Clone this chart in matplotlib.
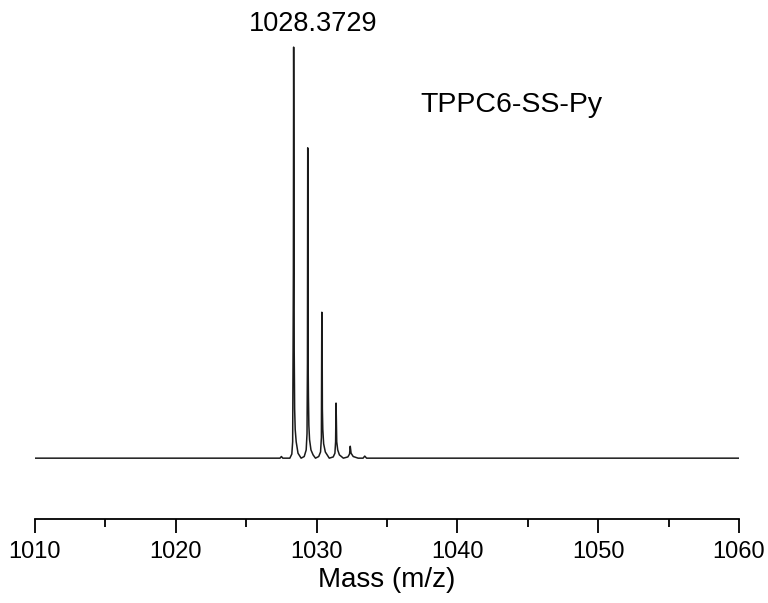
import matplotlib
matplotlib.use("Agg")
import matplotlib.pyplot as plt
from matplotlib.ticker import MultipleLocator

plt.rcParams['font.family'] = ['Liberation Sans', 'DejaVu Sans']

# Profile spectrum (m/z, relative intensity)
mz = [1010.0, 1027.40, 1027.50, 1027.60, 1028.10, 1028.24, 1028.30, 1028.33, 1028.35, 1028.37,
      1028.39, 1028.41, 1028.44, 1028.48, 1028.55, 1028.68, 1028.90,
      1029.12, 1029.26, 1029.32, 1029.35, 1029.37, 1029.38, 1029.40, 1029.42, 1029.45,
      1029.50, 1029.60, 1029.75, 1029.92,
      1030.15, 1030.28, 1030.34, 1030.37, 1030.39, 1030.41, 1030.44, 1030.50,
      1030.62, 1030.90,
      1031.18, 1031.30, 1031.35, 1031.38, 1031.40, 1031.43, 1031.50, 1031.62, 1031.90,
      1032.22, 1032.34, 1032.39, 1032.45, 1032.60, 1032.95,
      1033.30, 1033.42, 1033.55, 1033.80, 1060.0]
intensity = [0.0, 0.0, 0.004, 0.0, 0.0, 0.01, 0.04, 0.26, 0.45, 1.0,
             0.70, 0.26, 0.12, 0.07, 0.04, 0.012, 0.0,
             0.004, 0.02, 0.06, 0.23, 0.755, 0.72, 0.23, 0.15, 0.08,
             0.045, 0.02, 0.008, 0.0,
             0.004, 0.015, 0.05, 0.355, 0.33, 0.12, 0.07, 0.035,
             0.015, 0.0,
             0.003, 0.012, 0.04, 0.134, 0.10, 0.04, 0.02, 0.008, 0.0,
             0.003, 0.01, 0.029, 0.012, 0.004, 0.0,
             0.0, 0.005, 0.0, 0.0, 0.0]

peak_label = "1028.3729"
compound = "TPPC6-SS-Py"
xticks_major = [1010, 1020, 1030, 1040, 1050, 1060]

fig = plt.figure(figsize=(7.68, 6.03), dpi=100)
ax = fig.add_axes([35/768, 84/603, 704/768, 1 - 84/603 - 20/603])
ax.plot(mz, intensity, color='#1a1a1a', lw=1.1)

ax.set_xlim(1010, 1060)
ax.set_ylim(-0.148, 1.066)
ax.set_xticks(xticks_major)
ax.xaxis.set_minor_locator(MultipleLocator(5))
ax.tick_params(axis='x', which='major', direction='out', length=10, width=1.3,
               labelsize=17, pad=6)
ax.tick_params(axis='x', which='minor', direction='out', length=6, width=1.3)
ax.set_yticks([])
for s in ['left', 'right', 'top']:
    ax.spines[s].set_visible(False)
ax.spines['bottom'].set_linewidth(1.3)

ax.set_xlabel("Mass (m/z)", fontsize=20, labelpad=3)

ax.text(1029.75, 1.025, peak_label, ha='center', va='bottom', fontsize=19.5)
ax.text(1037.35, 0.86, compound, ha='left', va='center', fontsize=20.5)

fig.savefig("out.png", dpi=100)
